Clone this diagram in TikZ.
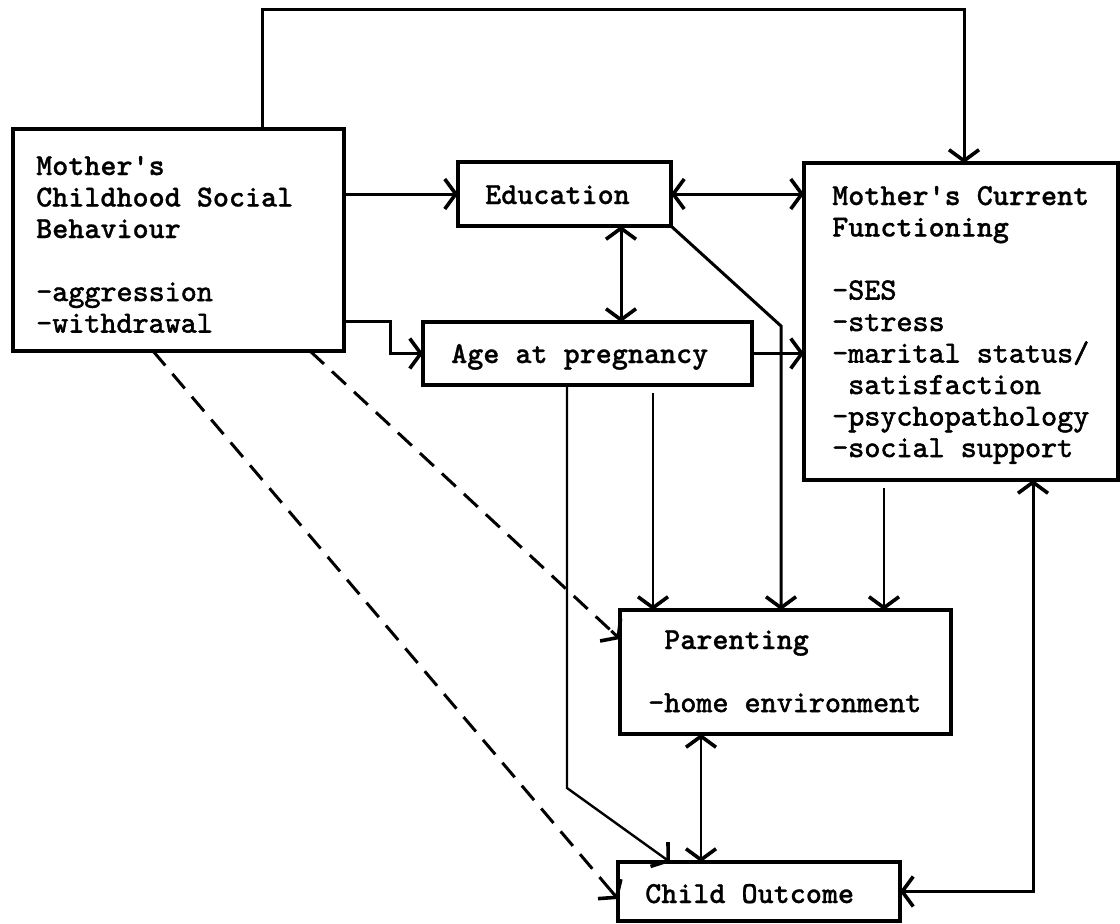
\documentclass[tikz,border=0pt]{standalone}
\usepackage{fontspec}
\usetikzlibrary{arrows.meta,calc}
\newfontfamily\regf{lmmono10-regular.otf}[FakeBold=1.8]
\newfontfamily\bff{lmmonolt10-bold.otf}[FakeBold=0.8]
\newcommand\ms{\hphantom{x}}
\begin{document}
\begin{tikzpicture}[x=1pt,y=-1pt,
  box/.style={draw, line width=3.4pt, inner sep=0pt, outer sep=0pt, anchor=north west},
  txt/.style={anchor=base west, inner sep=0pt, text width=290pt, align=left,
              font=\fontsize{30.6}{31.5}\selectfont},
  >={Straight Barb[length=11pt,width=30pt,line width=3.6pt]},
  conn/.style={line width=3pt},
  thinconn/.style={line width=2.4pt},
  dashconn/.style={line width=3pt, dash pattern=on 19pt off 11pt}]
\useasboundingbox (0,0) rectangle (1120,924);

% boxes
\node[box, minimum width=331pt, minimum height=222pt] (mcsb) at (13,129) {};
\node[box, minimum width=213pt, minimum height=64pt] (edu) at (458,162) {};
\node[box, minimum width=329pt, minimum height=63pt] (age) at (423,322) {};
\node[box, minimum width=314pt, minimum height=317pt] (mcf) at (804,163) {};
\node[box, minimum width=331pt, minimum height=124pt] (par) at (620,610) {};
\node[box, minimum width=282pt, minimum height=59pt] (child) at (618,862) {};

% texts
\node[txt] (mcsbT) at (36,175) {{\bff Mother's\\Childhood\ms Social\\Behaviour}\\[31.5pt]{\regf -aggression\\-withdrawal}};
\node[txt] (eduT) at (485,204) {\bff Education};
\node[txt] (ageT) at (451,363) {\bff Age\ms at\ms pregnancy};
\node[txt] (mcfT) at (832,205) {{\bff Mother's\ms Current\\Functioning}\\[31.5pt]{\regf -SES\\-stress\\-marital\ms status/\\\ms satisfaction\\-psychopathology\\-social\ms support}};
\node[txt] (parT) at (648,649) {{\bff\ms Parenting}\\[31.5pt]{\regf -home\ms environment}};
\node[txt] (childT) at (645,903) {\bff Child\ms Outcome};

% helper coordinates
\coordinate (x153) at (153,0);
\coordinate (x262) at (262,0);
\coordinate (x310) at (310,0);
\coordinate (x567) at (567,0);
\coordinate (x621) at (621,0);
\coordinate (x653) at (653,0);
\coordinate (x670) at (670,0);
\coordinate (x701) at (701,0);
\coordinate (x781) at (781,0);
\coordinate (x884) at (884,0);
\coordinate (x964) at (964,0);
\coordinate (x1033) at (1033,0);
\coordinate (y321) at (0,321);
\coordinate (y639) at (0,639);
\coordinate (y899) at (0,899);
\coordinate (topR) at (964,9);
\coordinate (stepA) at (390,321);
\coordinate (eduBend) at (781,326);
\coordinate (ageBend) at (567,788);
\coordinate (dA1) at (mcsb.south -| x310);
\coordinate (dA2) at (par.west |- y639);
\coordinate (dB1) at (mcsb.south -| x153);
\coordinate (dB2) at (child.west |- y899);

% connectors
\draw[conn,->] (mcsb.north -| x262) |- (topR) -- (mcf.north -| x964);
\draw[conn,->] (mcsb.east |- edu.west) -- (edu.west);
\draw[conn,<->] (edu.east) -- (mcf.west |- edu.east);
\draw[conn,<->] (edu.south -| x621) -- (age.north -| x621);
\draw[conn,->] (mcsb.east |- y321) -- (stepA) |- (age.west);
\draw[conn,->] (age.east) -- (mcf.west |- age.east);
\draw[conn,->] (edu.south east) -- (eduBend) -- (par.north -| x781);
\draw[thinconn,->,shorten <=8pt] (age.south -| x653) -- (par.north -| x653);
\draw[thinconn,->] (age.south -| x567) -- (ageBend) -- (child.north -| x670);
\draw[thinconn,->,shorten <=8pt] (mcf.south -| x884) -- (par.north -| x884);
\draw[thinconn,<->] (par.south -| x701) -- (child.north -| x701);
\draw[conn,<->] (child.east) -| (mcf.south -| x1033);
% dashed connectors (solid arrow tips)
\draw[dashconn] (dA1) -- ($(dA2)!12pt!(dA1)$);
\draw[conn,->] ($(dA2)!12pt!(dA1)$) -- (dA2);
\draw[dashconn] (dB1) -- ($(dB2)!12pt!(dB1)$);
\draw[conn,->] ($(dB2)!12pt!(dB1)$) -- (dB2);
\end{tikzpicture}
\end{document}
